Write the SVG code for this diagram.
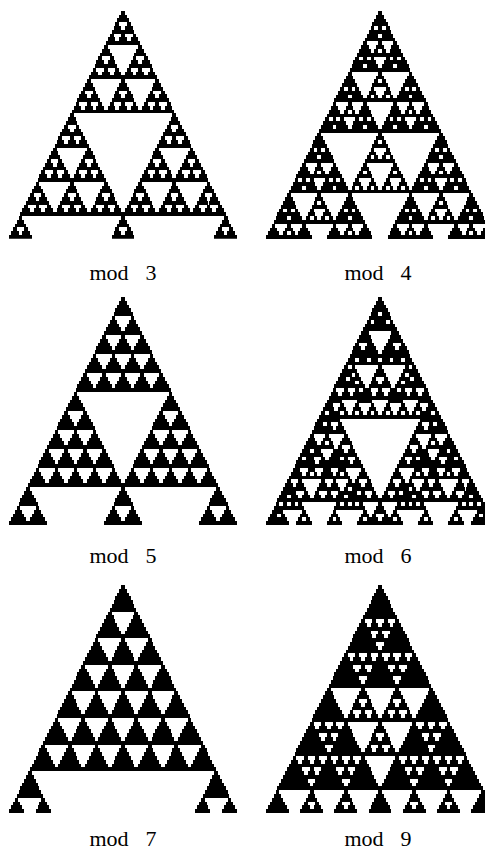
<svg xmlns="http://www.w3.org/2000/svg" width="485" height="851" viewBox="0 0 485 851">
<style>
.lbl{font-family:"Liberation Serif","Times New Roman",serif;font-size:22px;fill:#000;text-anchor:middle;word-spacing:3px}
.pan{shape-rendering:crispEdges;fill:#000}
</style>
<defs>
<clipPath id="clip60"><rect x="-40" y="0" width="80" height="60"/></clipPath>
<polygon id="t2" points="-0.5,0 0.5,0 0.5,1 1,1 1,2 -1,2 -1,1 -0.5,1"/>
<polygon id="t3" points="-0.5,0 0.5,0 0.5,1 1,1 1,2 1.5,2 1.5,3 -1.5,3 -1.5,2 -1,2 -1,1 -0.5,1"/>
<polygon id="t4" points="-0.5,0 0.5,0 0.5,1 1,1 1,2 1.5,2 1.5,3 2,3 2,4 -2,4 -2,3 -1.5,3 -1.5,2 -1,2 -1,1 -0.5,1"/>
<polygon id="t5" points="-0.5,0 0.5,0 0.5,1 1,1 1,2 1.5,2 1.5,3 2,3 2,4 2.5,4 2.5,5 -2.5,5 -2.5,4 -2,4 -2,3 -1.5,3 -1.5,2 -1,2 -1,1 -0.5,1"/>
<polygon id="t7" points="-0.5,0 0.5,0 0.5,1 1,1 1,2 1.5,2 1.5,3 2,3 2,4 2.5,4 2.5,5 3,5 3,6 3.5,6 3.5,7 -3.5,7 -3.5,6 -3,6 -3,5 -2.5,5 -2.5,4 -2,4 -2,3 -1.5,3 -1.5,2 -1,2 -1,1 -0.5,1"/>
<polygon id="t9" points="-0.5,0 0.5,0 0.5,1 1,1 1,2 1.5,2 1.5,3 2,3 2,4 2.5,4 2.5,5 3,5 3,6 3.5,6 3.5,7 4,7 4,8 4.5,8 4.5,9 -4.5,9 -4.5,8 -4,8 -4,7 -3.5,7 -3.5,6 -3,6 -3,5 -2.5,5 -2.5,4 -2,4 -2,3 -1.5,3 -1.5,2 -1,2 -1,1 -0.5,1"/>
<!-- mod 2 Sierpinski -->
<g id="s2_2"><use href="#t2"/><use href="#t2" x="-1" y="2"/><use href="#t2" x="1" y="2"/></g>
<g id="s2_3"><use href="#s2_2"/><use href="#s2_2" x="-2" y="4"/><use href="#s2_2" x="2" y="4"/></g>
<g id="s2_4"><use href="#s2_3"/><use href="#s2_3" x="-4" y="8"/><use href="#s2_3" x="4" y="8"/></g>
<g id="s2_5"><use href="#s2_4"/><use href="#s2_4" x="-8" y="16"/><use href="#s2_4" x="8" y="16"/></g>
<g id="s2_6"><use href="#s2_5"/><use href="#s2_5" x="-16" y="32"/><use href="#s2_5" x="16" y="32"/></g>
<!-- mod 4 -->
<g id="f2_3"><use href="#t4"/><use href="#t4" x="-2" y="4"/><use href="#t4" x="2" y="4"/><use href="#t2" x="0" y="4"/></g>
<g id="f2_4"><use href="#f2_3"/><use href="#f2_3" x="-4" y="8"/><use href="#f2_3" x="4" y="8"/><use href="#s2_2" x="0" y="8"/></g>
<g id="f2_5"><use href="#f2_4"/><use href="#f2_4" x="-8" y="16"/><use href="#f2_4" x="8" y="16"/><use href="#s2_3" x="0" y="16"/></g>
<g id="f2_6"><use href="#f2_5"/><use href="#f2_5" x="-16" y="32"/><use href="#f2_5" x="16" y="32"/><use href="#s2_4" x="0" y="32"/></g>
<!-- mod 3 Sierpinski -->
<g id="s3_2"><use href="#t3"/><use href="#t3" x="-1.5" y="3"/><use href="#t3" x="1.5" y="3"/><use href="#t3" x="-3" y="6"/><use href="#t3" x="0" y="6"/><use href="#t3" x="3" y="6"/></g>
<g id="s3_3"><use href="#s3_2"/><use href="#s3_2" x="-4.5" y="9"/><use href="#s3_2" x="4.5" y="9"/><use href="#s3_2" x="-9" y="18"/><use href="#s3_2" x="0" y="18"/><use href="#s3_2" x="9" y="18"/></g>
<g id="s3_4"><use href="#s3_3"/><use href="#s3_3" x="-13.5" y="27"/><use href="#s3_3" x="13.5" y="27"/><use href="#s3_3" x="-27" y="54"/><use href="#s3_3" x="0" y="54"/><use href="#s3_3" x="27" y="54"/></g>
<!-- mod 9 -->
<g id="f3_3"><use href="#t9"/><use href="#t9" x="-4.5" y="9"/><use href="#t9" x="4.5" y="9"/><use href="#t9" x="-9" y="18"/><use href="#t9" x="0" y="18"/><use href="#t9" x="9" y="18"/>
<use href="#t3" x="-1.5" y="9"/><use href="#t3" x="1.5" y="9"/><use href="#t3" x="0" y="12"/>
<use href="#t3" x="-6" y="18"/><use href="#t3" x="-3" y="18"/><use href="#t3" x="-4.5" y="21"/>
<use href="#t3" x="3" y="18"/><use href="#t3" x="6" y="18"/><use href="#t3" x="4.5" y="21"/></g>
<g id="w3_3"><use href="#s3_2" x="9" y="0"/><use href="#s3_2" x="18" y="0"/><use href="#s3_2" x="13.5" y="9"/></g>
<g id="f3_4"><use href="#f3_3"/><use href="#f3_3" x="-13.5" y="27"/><use href="#f3_3" x="13.5" y="27"/><use href="#f3_3" x="-27" y="54"/><use href="#f3_3" x="0" y="54"/><use href="#f3_3" x="27" y="54"/>
<use href="#w3_3" x="-13.5" y="27"/><use href="#w3_3" x="-27" y="54"/><use href="#w3_3" x="0" y="54"/></g>
<!-- mod 5 -->
<g id="s5_2"><use href="#t5"/>
<use href="#t5" x="-2.5" y="5"/><use href="#t5" x="2.5" y="5"/>
<use href="#t5" x="-5" y="10"/><use href="#t5" x="0" y="10"/><use href="#t5" x="5" y="10"/>
<use href="#t5" x="-7.5" y="15"/><use href="#t5" x="-2.5" y="15"/><use href="#t5" x="2.5" y="15"/><use href="#t5" x="7.5" y="15"/>
<use href="#t5" x="-10" y="20"/><use href="#t5" x="-5" y="20"/><use href="#t5" x="0" y="20"/><use href="#t5" x="5" y="20"/><use href="#t5" x="10" y="20"/></g>
<g id="s5_3"><use href="#s5_2"/><use href="#s5_2" x="-12.5" y="25"/><use href="#s5_2" x="12.5" y="25"/><use href="#s5_2" x="-25" y="50"/><use href="#s5_2" x="0" y="50"/><use href="#s5_2" x="25" y="50"/></g>
<!-- mod 7 -->
<g id="s7_2"><use href="#t7"/>
<use href="#t7" x="-3.5" y="7"/><use href="#t7" x="3.5" y="7"/>
<use href="#t7" x="-7" y="14"/><use href="#t7" x="0" y="14"/><use href="#t7" x="7" y="14"/>
<use href="#t7" x="-10.5" y="21"/><use href="#t7" x="-3.5" y="21"/><use href="#t7" x="3.5" y="21"/><use href="#t7" x="10.5" y="21"/>
<use href="#t7" x="-14" y="28"/><use href="#t7" x="-7" y="28"/><use href="#t7" x="0" y="28"/><use href="#t7" x="7" y="28"/><use href="#t7" x="14" y="28"/>
<use href="#t7" x="-17.5" y="35"/><use href="#t7" x="-10.5" y="35"/><use href="#t7" x="-3.5" y="35"/><use href="#t7" x="3.5" y="35"/><use href="#t7" x="10.5" y="35"/><use href="#t7" x="17.5" y="35"/>
<use href="#t7" x="-21" y="42"/><use href="#t7" x="-14" y="42"/><use href="#t7" x="-7" y="42"/><use href="#t7" x="0" y="42"/><use href="#t7" x="7" y="42"/><use href="#t7" x="14" y="42"/><use href="#t7" x="21" y="42"/></g>
<g id="s7_3"><use href="#s7_2"/><use href="#s7_2" x="-24.5" y="49"/><use href="#s7_2" x="24.5" y="49"/></g>
</defs>

<g id="panel-mod3" class="pan" transform="translate(123,10.8) scale(3.8)"><g clip-path="url(#clip60)"><use href="#s3_4"/></g></g>
<g id="panel-mod4" class="pan" transform="translate(380,11) scale(3.8)"><g clip-path="url(#clip60)"><use href="#f2_6"/></g></g>
<g id="panel-mod5" class="pan" transform="translate(123,297) scale(3.8)"><g clip-path="url(#clip60)"><use href="#s5_3"/></g></g>
<g id="panel-mod6" class="pan" transform="translate(380,297) scale(3.8)"><g clip-path="url(#clip60)"><use href="#s2_6"/><use href="#s3_4"/></g></g>
<g id="panel-mod7" class="pan" transform="translate(123,585) scale(3.8)"><g clip-path="url(#clip60)"><use href="#s7_3"/></g></g>
<g id="panel-mod9" class="pan" transform="translate(380,585) scale(3.8)"><g clip-path="url(#clip60)"><use href="#f3_4"/></g></g>

<g id="labels">
<text class="lbl" x="123" y="280" xml:space="preserve">mod  3</text>
<text class="lbl" x="378" y="280" xml:space="preserve">mod  4</text>
<text class="lbl" x="123" y="563" xml:space="preserve">mod  5</text>
<text class="lbl" x="378" y="563" xml:space="preserve">mod  6</text>
<text class="lbl" x="123" y="846" xml:space="preserve">mod  7</text>
<text class="lbl" x="378" y="846" xml:space="preserve">mod  9</text>
</g>
</svg>
